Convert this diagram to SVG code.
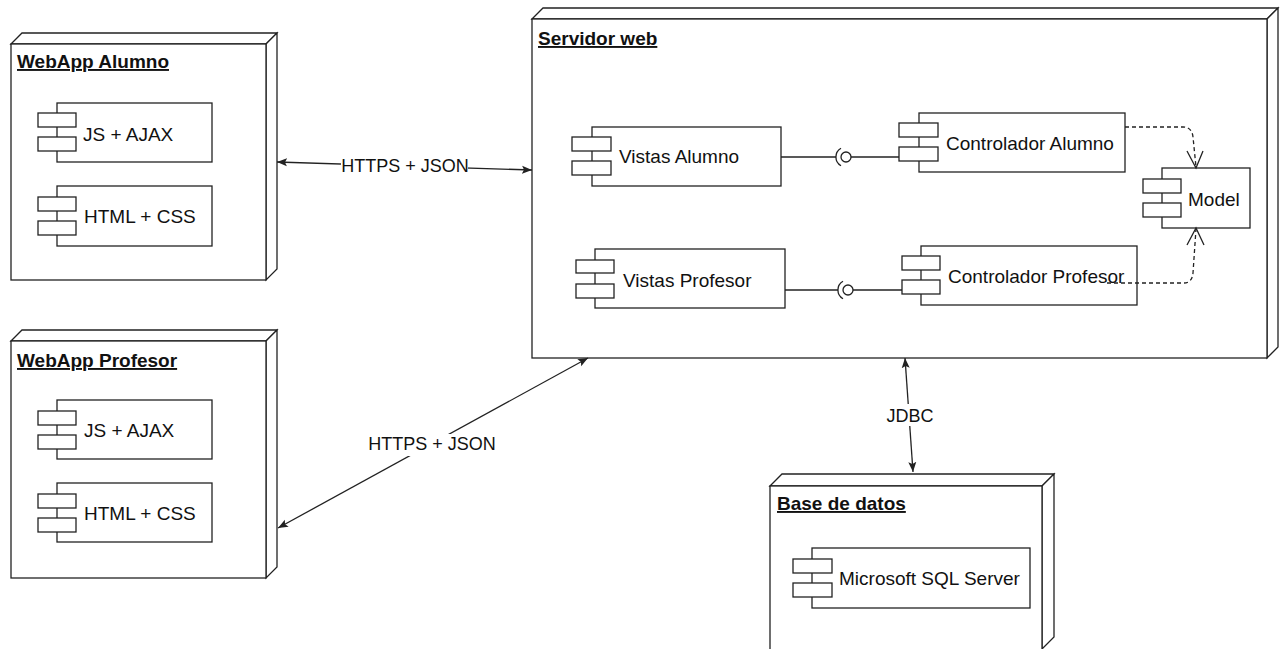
<svg xmlns="http://www.w3.org/2000/svg" width="1284" height="649" viewBox="0 0 1284 649">
<style>
.box{fill:#fff;stroke:#222;stroke-width:1.3}
.face{fill:#fff;stroke:#222;stroke-width:1.3;stroke-linejoin:miter}
.title{font-family:"Liberation Sans",Arial,sans-serif;font-size:19px;font-weight:bold;fill:#111;text-decoration:underline}
.lbl{font-family:"Liberation Sans",Arial,sans-serif;font-size:19px;fill:#111}
.elbl{font-family:"Liberation Sans",Arial,sans-serif;font-size:18px;fill:#111;text-anchor:middle}
.edge{fill:none;stroke:#222;stroke-width:1.3}
.dash{fill:none;stroke:#222;stroke-width:1.3;stroke-dasharray:4 3}
.open{fill:none;stroke:#222;stroke-width:1.3}
</style>
<defs>
<marker id="arr" viewBox="0 0 10 10" refX="10" refY="5" markerWidth="10" markerHeight="10" markerUnits="userSpaceOnUse" orient="auto-start-reverse">
<path d="M0,1 L10,5 L0,9 L2,5 Z" fill="#222"/>
</marker>
</defs>
<rect width="1284" height="649" fill="#fff"/>

<g id="webapp-alumno">
<polygon class="face" points="11,44 22,33 277,33 266,44"/>
<polygon class="face" points="266,44 277,33 277,269 266,280"/>
<rect class="box" x="11" y="44" width="255" height="236"/>
<text class="title" x="17" y="68">WebApp Alumno</text>
<g id="alumno-js">
<rect class="box" x="57" y="103" width="155" height="59"/>
<rect class="box" x="38" y="113" width="38" height="14"/>
<rect class="box" x="38" y="137" width="38" height="14"/>
<text class="lbl" x="83" y="141">JS + AJAX</text>
</g>
<g id="alumno-html">
<rect class="box" x="57" y="186" width="155" height="60"/>
<rect class="box" x="38" y="197" width="38" height="14"/>
<rect class="box" x="38" y="221" width="38" height="14"/>
<text class="lbl" x="84" y="223">HTML + CSS</text>
</g>
</g>

<g id="webapp-profesor">
<polygon class="face" points="11,341 22,330 277,330 266,341"/>
<polygon class="face" points="266,341 277,330 277,567 266,578"/>
<rect class="box" x="11" y="341" width="255" height="237"/>
<text class="title" x="17" y="367">WebApp Profesor</text>
<g id="profesor-js">
<rect class="box" x="57" y="400" width="155" height="59"/>
<rect class="box" x="38" y="411" width="38" height="14"/>
<rect class="box" x="38" y="435" width="38" height="14"/>
<text class="lbl" x="84" y="437">JS + AJAX</text>
</g>
<g id="profesor-html">
<rect class="box" x="57" y="483" width="155" height="59"/>
<rect class="box" x="38" y="494" width="38" height="14"/>
<rect class="box" x="38" y="518" width="38" height="14"/>
<text class="lbl" x="84" y="520">HTML + CSS</text>
</g>
</g>

<g id="servidor-web">
<polygon class="face" points="532,19 543,8 1278,8 1267,19"/>
<polygon class="face" points="1267,19 1278,8 1278,347 1267,358"/>
<rect class="box" x="532" y="19" width="735" height="339"/>
<text class="title" x="538" y="45">Servidor web</text>
<g id="vistas-alumno">
<rect class="box" x="592" y="127" width="189" height="59"/>
<rect class="box" x="572" y="137" width="39" height="14"/>
<rect class="box" x="572" y="161" width="39" height="14"/>
<text class="lbl" x="619" y="163">Vistas Alumno</text>
</g>
<g id="controlador-alumno">
<rect class="box" x="919" y="113" width="206" height="59"/>
<rect class="box" x="899" y="123" width="39" height="14"/>
<rect class="box" x="899" y="147" width="39" height="14"/>
<text class="lbl" x="946" y="150">Controlador Alumno</text>
</g>
<g id="model">
<rect class="box" x="1162" y="168" width="88" height="60"/>
<rect class="box" x="1143" y="179" width="38" height="14"/>
<rect class="box" x="1143" y="203" width="38" height="14"/>
<text class="lbl" x="1188" y="206">Model</text>
</g>
<g id="vistas-profesor">
<rect class="box" x="595" y="249" width="190" height="59"/>
<rect class="box" x="576" y="260" width="38" height="13"/>
<rect class="box" x="576" y="284" width="38" height="14"/>
<text class="lbl" x="623" y="287">Vistas Profesor</text>
</g>
<g id="controlador-profesor">
<rect class="box" x="921" y="246" width="216" height="59"/>
<rect class="box" x="902" y="256" width="38" height="14"/>
<rect class="box" x="902" y="280" width="38" height="14"/>
<text class="lbl" x="948" y="283">Controlador Profesor</text>
</g>
</g>

<g id="base-de-datos">
<polygon class="face" points="770,486 782,474 1054,474 1042,486"/>
<polygon class="face" points="1042,486 1054,474 1054,637 1042,649"/>
<rect class="box" x="770" y="486" width="272" height="165"/>
<text class="title" x="777" y="510">Base de datos</text>
<g id="sql-server">
<rect class="box" x="812" y="548" width="218" height="60"/>
<rect class="box" x="793" y="559" width="39" height="14"/>
<rect class="box" x="793" y="583" width="39" height="14"/>
<text class="lbl" x="839" y="585">Microsoft SQL Server</text>
</g>
</g>

<g id="connectors">
<!-- interfaces -->
<path class="edge" d="M781,157 L836,157"/>
<path class="edge" d="M841,148.3 A10,10 0 0 0 841,165.7"/>
<circle class="edge" cx="846" cy="157" r="5"/>
<path class="edge" d="M851,157 L899,157"/>

<path class="edge" d="M785,290 L838,290"/>
<path class="edge" d="M843,281.3 A10,10 0 0 0 843,298.7"/>
<circle class="edge" cx="848" cy="290" r="5"/>
<path class="edge" d="M853,290 L902,290"/>

<!-- dependencies -->
<path class="dash" d="M1125,127 L1183,127 Q1192,127 1193,137 L1196,167"/>
<path class="open" d="M1187,151 L1196,168 L1203,151"/>
<path class="dash" d="M1107,283 L1184,283 Q1192,283 1193,273 L1196,229"/>
<path class="open" d="M1187,245 L1196,228 L1204,245"/>

<!-- HTTPS alumno -->
<path class="edge" d="M277,162 L532,170" marker-start="url(#arr)" marker-end="url(#arr)"/>
<rect x="341" y="156" width="127" height="20" fill="#fff"/>
<text class="elbl" x="405" y="172">HTTPS + JSON</text>

<!-- HTTPS profesor -->
<path class="edge" d="M278,528 L588,358" marker-start="url(#arr)" marker-end="url(#arr)"/>
<rect x="367" y="434" width="129" height="22" fill="#fff"/>
<text class="elbl" x="432" y="450">HTTPS + JSON</text>

<!-- JDBC -->
<path class="edge" d="M905,358 L913,472" marker-start="url(#arr)" marker-end="url(#arr)"/>
<rect x="884" y="404" width="52" height="22" fill="#fff"/>
<text class="elbl" x="910" y="422">JDBC</text>
</g>
</svg>
